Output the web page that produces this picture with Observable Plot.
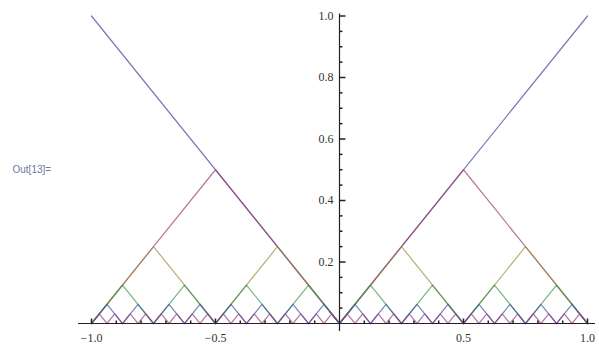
<!DOCTYPE html>
<html>
<head>
<meta charset="utf-8">
<script src="https://cdn.jsdelivr.net/npm/d3@7"></script>
<script src="https://cdn.jsdelivr.net/npm/@observablehq/plot@0.6"></script>
<style>
  body { margin: 0; background: #fff; }
</style>
</head>
<body>
<div id="chart"></div>
<script>
// Each series is a zigzag "distance to nearest grid point" curve; peak height of each level
const levelNames = ["level 0", "level 1", "level 2", "level 3", "level 4", "level 5"];
const peakHeights = [1, 0.5, 0.25, 0.125, 0.0625, 0.03125];
const seriesColors = ["#3d3d99", "#993d71", "#998c3d", "#3d9956", "#3d5a99", "#993d90"];
const xMajorTicks = [-1, -0.5, 0.5, 1];
const xMinorTicks = [-0.9, -0.8, -0.7, -0.6, -0.4, -0.3, -0.2, -0.1, 0.1, 0.2, 0.3, 0.4, 0.6, 0.7, 0.8, 0.9];
const yMajorTicks = [0.2, 0.4, 0.6, 0.8, 1.0];
const yMinorTicks = [0.05, 0.1, 0.15, 0.25, 0.3, 0.35, 0.45, 0.5, 0.55, 0.65, 0.7, 0.75, 0.85, 0.9, 0.95];
const outLabel = ["Out[13]="];

// vertices of each zigzag: at x = j*h the value is h (j odd) or 0 (j even)
const series = levelNames.map((name, k) => {
  const h = peakHeights[k];
  const n = Math.round(1 / h);
  const pts = [];
  for (let j = -n; j <= n; j++) pts.push({level: name, x: j * h, y: Math.abs(j) % 2 === 1 ? h : 0});
  return pts;
});

const tickUp = (L) => ({draw(ctx) { ctx.moveTo(0, 0); ctx.lineTo(0, -L); }});
const tickRight = (L) => ({draw(ctx) { ctx.moveTo(0, 0); ctx.lineTo(L, 0); }});
const fmt = d3.format(".1f");
const axisColor = "#222";
const labelFont = "Liberation Serif, DejaVu Serif, serif";

const chart = Plot.plot({
  width: 599,
  height: 350,
  marginLeft: 91,
  marginRight: 12,
  marginTop: 15.5,
  marginBottom: 27,
  x: {domain: [-1, 1], axis: null},
  y: {domain: [0, 1], axis: null},
  style: {background: "#fff"},
  marks: [
    ...series.map((pts, k) => Plot.line(pts, {x: "x", y: "y", stroke: seriesColors[k], strokeWidth: 1.2, strokeOpacity: 0.7})),
    Plot.ruleY([0], {stroke: axisColor, strokeWidth: 1.2, insetLeft: -13, insetRight: -8}),
    Plot.ruleX([0], {stroke: axisColor, strokeWidth: 1.2, insetBottom: -8, insetTop: -2}),
    Plot.dot(xMajorTicks, {x: d => d, y: 0, r: 2, symbol: tickUp(5), stroke: axisColor, fill: "none"}),
    Plot.dot(xMinorTicks, {x: d => d, y: 0, r: 2, symbol: tickUp(3), stroke: axisColor, fill: "none"}),
    Plot.dot(yMajorTicks, {x: 0, y: d => d, r: 2, symbol: tickRight(6), stroke: axisColor, fill: "none"}),
    Plot.dot(yMinorTicks, {x: 0, y: d => d, r: 2, symbol: tickRight(3), stroke: axisColor, fill: "none"}),
    Plot.text(xMajorTicks, {x: d => d, y: 0, text: d => fmt(d), dy: 15, fill: "#333", fontSize: 12, fontFamily: labelFont}),
    Plot.text(yMajorTicks, {x: 0, y: d => d, text: d => fmt(d), textAnchor: "end", dx: -6, fill: "#333", fontSize: 12, fontFamily: labelFont}),
    Plot.text(outLabel, {frameAnchor: "left", dx: -79, textAnchor: "start", fill: "#6a7aa6", fontSize: 10, fontFamily: "Liberation Sans, Arial, sans-serif"})
  ]
});
document.getElementById("chart").appendChild(chart);
</script>
</body>
</html>
